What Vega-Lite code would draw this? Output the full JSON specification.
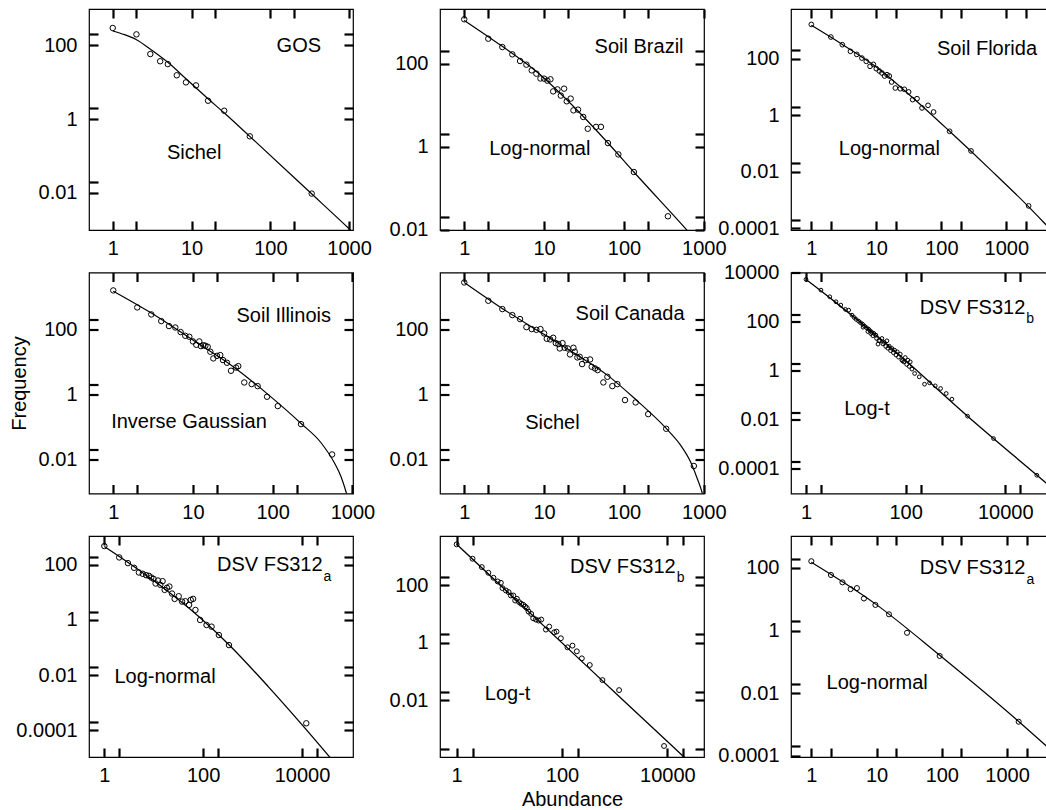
{
"$schema": "https://vega.github.io/schema/vega-lite/v6.json",
"padding": {"left": 8, "top": 7, "right": 0, "bottom": 4},
"bounds": "flush",
"spacing": {"row": 42.5, "column": 87},
"columns": 3,
"config": {
 "font": "Liberation Sans",
 "view": {"stroke": "black", "strokeWidth": 1.2},
 "axis": {"grid": false, "domain": false, "ticks": true, "tickColor": "black", "tickWidth": 2.2, "tickSize": -9, "offset": 0, "labelFontSize": 20, "labelColor": "black", "labelOverlap": false, "labelFlush": false, "labelBound": false, "titleFontSize": 20, "titleFontWeight": "normal", "titleColor": "black"},
 "axisX": {"labelPadding": 17.5, "titlePadding": 4},
 "axisY": {"labelPadding": 21, "titlePadding": 9},
 "line": {"interpolate": "monotone"},
 "text": {"color": "black"}
},
"datasets": {
 "p1": [{"x":1,"y":295},{"x":2,"y":198},{"x":3,"y":58},{"x":4,"y":37},{"x":5,"y":31},{"x":6.5,"y":15.4},{"x":8.5,"y":9.9},{"x":11.4,"y":8.2},{"x":16.2,"y":3.15},{"x":26,"y":1.69},{"x":55,"y":0.342},{"x":335,"y":0.0096}],
 "p1f": [{"x":1,"y":245},{"x":1.41,"y":195},{"x":1.98,"y":144},{"x":3.06,"y":76},{"x":5.13,"y":33},{"x":8.51,"y":12.4},{"x":16.2,"y":3.57},{"x":26.1,"y":1.46},{"x":54.8,"y":0.342},{"x":316,"y":0.0106},{"x":1000,"y":0.00107},{"x":1120,"y":0.00085}],
 "t1": [{"nx":440,"ny":95.7,"name":"GOS","sub":"","mx":10.8,"my":0.12,"model":"Sichel"}],
 "p2": [{"x":1,"y":1175},{"x":2,"y":400},{"x":3,"y":252},{"x":4,"y":168},{"x":5,"y":116},{"x":6,"y":94.6},{"x":7,"y":69},{"x":8,"y":57.5},{"x":9,"y":44},{"x":10,"y":43.6},{"x":11,"y":39},{"x":12,"y":42},{"x":13,"y":21.5},{"x":14.7,"y":24},{"x":16.2,"y":17},{"x":17.8,"y":25},{"x":19.2,"y":12.4},{"x":21.5,"y":14.4},{"x":23.3,"y":7.5},{"x":26.6,"y":7.8},{"x":30.9,"y":5.2},{"x":35.2,"y":2.7},{"x":44.7,"y":3.0},{"x":51.5,"y":3.0},{"x":63,"y":1.22},{"x":85,"y":0.65},{"x":133,"y":0.245},{"x":355,"y":0.021}],
 "p2f": [{"x":1,"y":1107},{"x":2.87,"y":277},{"x":7.87,"y":66.6},{"x":23.7,"y":9.04},{"x":63.1,"y":1.225},{"x":133,"y":0.245},{"x":607,"y":0.01},{"x":794,"y":0.0056}],
 "t2": [{"nx":557,"ny":252,"name":"Soil Brazil","sub":"","mx":8.83,"my":0.895,"model":"Log-normal"}],
 "p3": [{"x":1,"y":1622},{"x":2,"y":582},{"x":3,"y":312},{"x":4,"y":182},{"x":5,"y":142},{"x":6,"y":105},{"x":7,"y":80.5},{"x":8,"y":53.7},{"x":9,"y":63},{"x":10,"y":44.4},{"x":11.1,"y":36.7},{"x":12.2,"y":31.2},{"x":13.4,"y":24.4},{"x":14.6,"y":27.2},{"x":15.8,"y":24.4},{"x":17.2,"y":15},{"x":19.6,"y":9.2},{"x":23.4,"y":8.7},{"x":27,"y":8.3},{"x":31.4,"y":6.7},{"x":36.2,"y":3.57},{"x":42.3,"y":3.87},{"x":50.4,"y":1.82},{"x":62.4,"y":2.25},{"x":76,"y":1.31},{"x":134,"y":0.272},{"x":286,"y":0.055},{"x":2200,"y":0.00063}],
 "p3f": [{"x":1,"y":1514},{"x":3.16,"y":295},{"x":10,"y":50.8},{"x":36.3,"y":4.17},{"x":134,"y":0.272},{"x":562,"y":0.0123},{"x":2208,"y":0.000582},{"x":4121,"y":0.000132},{"x":5000,"y":0.000083}],
 "t3": [{"nx":2967,"ny":225,"name":"Soil Florida","sub":"","mx":15.85,"my":0.066,"model":"Log-normal"}],
 "p4": [{"x":1,"y":1538},{"x":2,"y":463},{"x":3,"y":282},{"x":4,"y":176},{"x":5,"y":124},{"x":6,"y":112},{"x":7,"y":81},{"x":8,"y":62.4},{"x":9,"y":58.2},{"x":10,"y":41.8},{"x":11,"y":33},{"x":12,"y":41.8},{"x":12.6,"y":30},{"x":13.5,"y":32},{"x":14.3,"y":30.9},{"x":15.3,"y":28.7},{"x":16.5,"y":20.2},{"x":18,"y":12.6},{"x":20,"y":15.1},{"x":22,"y":15.9},{"x":23.8,"y":11.2},{"x":26.7,"y":9.27},{"x":30,"y":5.26},{"x":34.7,"y":6.6},{"x":37,"y":7.3},{"x":44,"y":2.3},{"x":54.5,"y":2.05},{"x":64.8,"y":1.78},{"x":85,"y":0.84},{"x":116,"y":0.434},{"x":227,"y":0.121},{"x":556,"y":0.0142}],
 "p4f": [{"x":1,"y":1466},{"x":2.97,"y":317},{"x":10.4,"y":42.9},{"x":33,"y":6.67},{"x":86.5,"y":1.01},{"x":227,"y":0.127},{"x":404,"y":0.0325},{"x":594,"y":0.0079},{"x":721,"y":0.00294},{"x":832,"y":0.00102},{"x":870,"y":0.0007}],
 "t4": [{"nx":539,"ny":256,"name":"Soil Illinois","sub":"","mx":8.9,"my":0.143,"model":"Inverse Gaussian"}],
 "p5": [{"x":1,"y":2704},{"x":2,"y":741},{"x":3,"y":411},{"x":4,"y":269},{"x":5,"y":203},{"x":6,"y":115},{"x":7,"y":100},{"x":8,"y":95},{"x":9,"y":100},{"x":10,"y":73.6},{"x":10.8,"y":50.5},{"x":11.9,"y":48.2},{"x":13,"y":54.2},{"x":14,"y":37.2},{"x":15.1,"y":34.7},{"x":15.7,"y":25.5},{"x":17,"y":37.2},{"x":18.1,"y":26.7},{"x":19.8,"y":25.5},{"x":21.1,"y":16.7},{"x":23.3,"y":26.7},{"x":24.2,"y":20.1},{"x":26.1,"y":13.5},{"x":27.9,"y":14.1},{"x":29.9,"y":8.43},{"x":33.2,"y":11.2},{"x":37.6,"y":11.7},{"x":39.4,"y":6.98},{"x":43.4,"y":6.2},{"x":46.9,"y":5.52},{"x":62,"y":3.44},{"x":55.2,"y":2.31},{"x":71.5,"y":1.78},{"x":82.6,"y":2.05},{"x":103,"y":0.662},{"x":140,"y":0.562},{"x":201,"y":0.246},{"x":338,"y":0.0873},{"x":750,"y":0.0063}],
 "p5f": [{"x":1,"y":2704},{"x":2.99,"y":431},{"x":9.82,"y":70.3},{"x":26.1,"y":15.9},{"x":61.9,"y":3.87},{"x":140,"y":0.693},{"x":338,"y":0.0893},{"x":511,"y":0.0275},{"x":681,"y":0.00848},{"x":826,"y":0.00261},{"x":953,"y":0.00095},{"x":1000,"y":0.0006}],
 "t5": [{"nx":574,"ny":289,"name":"Soil Canada","sub":"","mx":12.7,"my":0.127,"model":"Sichel"}],
 "p6": [{"x":1,"y":5400},{"x":2,"y":1977},{"x":3,"y":1054},{"x":4,"y":659},{"x":5,"y":481},{"x":6.2,"y":320},{"x":7.2,"y":300},{"x":8.4,"y":187},{"x":9.3,"y":150},{"x":10.2,"y":125},{"x":11.4,"y":106},{"x":12.5,"y":91},{"x":13.7,"y":80},{"x":14,"y":60},{"x":15,"y":66.5},{"x":16.5,"y":56.8},{"x":17.5,"y":40},{"x":18.1,"y":50},{"x":19.5,"y":42.8},{"x":20,"y":33},{"x":21.1,"y":36.6},{"x":22,"y":27},{"x":23.2,"y":33.3},{"x":25.4,"y":28.4},{"x":26,"y":21},{"x":27.9,"y":12.2},{"x":29,"y":17},{"x":30.1,"y":16.7},{"x":33.5,"y":20.8},{"x":35,"y":12.5},{"x":37.3,"y":14.3},{"x":40,"y":9.8},{"x":42.2,"y":16.7},{"x":44,"y":8.3},{"x":47,"y":10.1},{"x":50,"y":6.6},{"x":53.2,"y":8.1},{"x":57,"y":5.4},{"x":60.1,"y":6.9},{"x":64,"y":4.4},{"x":68,"y":5.9},{"x":72,"y":3.6},{"x":78.2,"y":4.75},{"x":84,"y":2.7},{"x":87,"y":2.54},{"x":92,"y":2.3},{"x":98.5,"y":3.47},{"x":105,"y":1.8},{"x":111,"y":2.7},{"x":118,"y":1.5},{"x":124,"y":2.3},{"x":134,"y":1.16},{"x":152,"y":0.768},{"x":188,"y":0.561},{"x":240,"y":0.281},{"x":303,"y":0.318},{"x":394,"y":0.24},{"x":504,"y":0.187},{"x":654,"y":0.117},{"x":851,"y":0.0684},{"x":1754,"y":0.0138},{"x":5834,"y":0.00168},{"x":43150,"y":0.000053}],
 "p6f": [{"x":1,"y":5400},{"x":3.88,"y":638},{"x":39.1,"y":13.8},{"x":1754,"y":0.0138},{"x":68550,"y":0.0000242},{"x":100000,"y":0.0000126}],
 "t6": [{"nx":25350,"ny":350,"name":"DSV FS312","sub":"b","mx":16.8,"my":0.0284,"model":"Log-t"}],
 "p7": [{"x":1,"y":478},{"x":2,"y":185},{"x":3,"y":115},{"x":4,"y":77.8},{"x":5,"y":52.6},{"x":6,"y":47.1},{"x":7,"y":42.1},{"x":8,"y":39.8},{"x":8.9,"y":34.6},{"x":9.9,"y":31},{"x":10.9,"y":21},{"x":12.2,"y":26.9},{"x":13.6,"y":18.7},{"x":15.1,"y":25.5},{"x":16.6,"y":12.3},{"x":18.5,"y":14.6},{"x":20.7,"y":16.3},{"x":23.4,"y":9.08},{"x":26.5,"y":5.81},{"x":32,"y":7.26},{"x":37.4,"y":4.64},{"x":43.7,"y":4.78},{"x":51.9,"y":3.51},{"x":56.1,"y":5.33},{"x":62.6,"y":5.81},{"x":69.8,"y":2.31},{"x":86.9,"y":1.0},{"x":117,"y":0.658},{"x":148,"y":0.573},{"x":208,"y":0.285},{"x":333,"y":0.123},{"x":12240,"y":0.00018}],
 "p7f": [{"x":1,"y":464},{"x":8.9,"y":31},{"x":86.9,"y":1.2},{"x":333,"y":0.127},{"x":2099,"y":0.00377},{"x":10000,"y":0.000161},{"x":36560,"y":0.0000107},{"x":50100,"y":0.0000055}],
 "t7": [{"nx":26200,"ny":100,"name":"DSV FS312","sub":"a","mx":16.9,"my":0.00875,"model":"Log-normal"}],
 "p8": [{"x":1,"y":2716},{"x":2,"y":857},{"x":3,"y":438},{"x":4,"y":277},{"x":5,"y":185},{"x":6,"y":138},{"x":6.9,"y":124},{"x":7.4,"y":80.7},{"x":8.6,"y":66.9},{"x":9.7,"y":58.5},{"x":10.7,"y":44.7},{"x":11.9,"y":44.7},{"x":12.9,"y":29.8},{"x":13.9,"y":34.2},{"x":15.4,"y":26.1},{"x":16.8,"y":22.9},{"x":18.4,"y":21.1},{"x":20,"y":18.4},{"x":21.5,"y":16.1},{"x":23.2,"y":12.3},{"x":26,"y":10.2},{"x":28.4,"y":7.19},{"x":31.9,"y":6.46},{"x":35.9,"y":5.97},{"x":40.3,"y":6.46},{"x":49.4,"y":2.89},{"x":57.2,"y":3.68},{"x":71.1,"y":2.33},{"x":78.7,"y":2.46},{"x":95.1,"y":1.44},{"x":127,"y":0.697},{"x":158,"y":0.796},{"x":191,"y":0.505},{"x":238,"y":0.287},{"x":337,"y":0.168},{"x":586,"y":0.0501},{"x":1213,"y":0.0224},{"x":8650,"y":0.000252}],
 "p8f": [{"x":1,"y":2716},{"x":337,"y":0.123},{"x":20700,"y":0.000104},{"x":25000,"y":0.0000755}],
 "t8": [{"nx":14360,"ny":437,"name":"DSV FS312","sub":"b","mx":9.27,"my":0.0161,"model":"Log-t"}],
 "p9": [{"x":1,"y":164},{"x":2,"y":59.5},{"x":3,"y":34.6},{"x":4,"y":21.1},{"x":5,"y":22.7},{"x":6.4,"y":10.6},{"x":9.6,"y":6.6},{"x":15.5,"y":3.31},{"x":29.3,"y":0.851},{"x":92.7,"y":0.155},{"x":1507,"y":0.00123}],
 "p9f": [{"x":1,"y":152},{"x":9.58,"y":7.12},{"x":92.7,"y":0.163},{"x":1507,"y":0.001256},{"x":4000,"y":0.000207},{"x":5400,"y":0.000118}],
 "t9": [{"nx":1915,"ny":100,"name":"DSV FS312","sub":"a","mx":10.2,"my":0.0215,"model":"Log-normal"}]
},
"concat": [
{"width":264,"height":221,"resolve":{"axis":{"x":"independent","y":"independent"}},"layer":[
 {"data":{"name":"p1"},"mark":{"type":"point","shape":"circle","filled":false,"color":"black","opacity":1,"strokeWidth":1,"size":30},
  "encoding":{"x":{"field":"x","type":"quantitative","title":null,"scale":{"type":"log","nice":false,"domain":[0.5,1120]},"axis":{"orient":"bottom","tickSize":-9,"offset":0,"tickColor":"black","tickWidth":2.2,"values":[1,2,10,20,100,200,1000],"format":"~g","labelExpr":"indexof(datum.label,'2')>=0 ? '' : datum.label"}},
   "y":{"field":"y","type":"quantitative","title":null,"scale":{"type":"log","nice":false,"domain":[0.00099,964]},"axis":{"orient":"left","tickSize":-9,"offset":0,"tickColor":"black","tickWidth":2.2,"values":[0.01,0.02,1,2,100,200],"format":"~g","labelExpr":"indexof(datum.label,'2')>=0 ? '' : datum.label"}}}},
 {"data":{"name":"p1f"},"mark":{"type":"line","color":"black","strokeWidth":1.2,"clip":true},
  "encoding":{"x":{"field":"x","type":"quantitative","title":null,"scale":{"type":"log","nice":false,"domain":[0.5,1120]},"axis":{"orient":"top","tickSize":-9,"offset":0,"tickColor":"black","tickWidth":2.2,"values":[1,2,10,20,100,200,1000],"labels":false}},
   "y":{"field":"y","type":"quantitative","title":null,"scale":{"type":"log","nice":false,"domain":[0.00099,964]},"axis":{"orient":"right","tickSize":-9,"offset":0,"tickColor":"black","tickWidth":2.2,"values":[0.01,0.02,1,2,100,200],"labels":false}}}},
 {"data":{"name":"t1"},"mark":{"type":"text","align":"right","baseline":"middle","fontSize":20},
  "encoding":{"x":{"field":"nx","type":"quantitative","scale":{"type":"log","nice":false,"domain":[0.5,1120]},"axis":null},"y":{"field":"ny","type":"quantitative","scale":{"type":"log","nice":false,"domain":[0.00099,964]},"axis":null},"text":{"field":"name"}}},
 {"data":{"name":"t1"},"mark":{"type":"text","align":"center","baseline":"middle","fontSize":20},
  "encoding":{"x":{"field":"mx","type":"quantitative","scale":{"type":"log","nice":false,"domain":[0.5,1120]},"axis":null},"y":{"field":"my","type":"quantitative","scale":{"type":"log","nice":false,"domain":[0.00099,964]},"axis":null},"text":{"field":"model"}}}
]},
{"width":264,"height":221,"resolve":{"axis":{"x":"independent","y":"independent"}},"layer":[
 {"data":{"name":"p2"},"mark":{"type":"point","shape":"circle","filled":false,"color":"black","opacity":1,"strokeWidth":1,"size":30},
  "encoding":{"x":{"field":"x","type":"quantitative","title":null,"scale":{"type":"log","nice":false,"domain":[0.497,1005]},"axis":{"orient":"bottom","tickSize":-9,"offset":0,"tickColor":"black","tickWidth":2.2,"values":[1,2,10,20,100,200,1000],"format":"~g","labelExpr":"indexof(datum.label,'2')>=0 ? '' : datum.label"}},
   "y":{"field":"y","type":"quantitative","title":null,"scale":{"type":"log","nice":false,"domain":[0.0098,2080]},"axis":{"orient":"left","tickSize":-9,"offset":0,"tickColor":"black","tickWidth":2.2,"values":[0.01,0.02,1,2,100,200],"format":"~g","labelExpr":"indexof(datum.label,'2')>=0 ? '' : datum.label"}}}},
 {"data":{"name":"p2f"},"mark":{"type":"line","color":"black","strokeWidth":1.2,"clip":true},
  "encoding":{"x":{"field":"x","type":"quantitative","title":null,"scale":{"type":"log","nice":false,"domain":[0.497,1005]},"axis":{"orient":"top","tickSize":-9,"offset":0,"tickColor":"black","tickWidth":2.2,"values":[1,2,10,20,100,200,1000],"labels":false}},
   "y":{"field":"y","type":"quantitative","title":null,"scale":{"type":"log","nice":false,"domain":[0.0098,2080]},"axis":{"orient":"right","tickSize":-9,"offset":0,"tickColor":"black","tickWidth":2.2,"values":[0.01,0.02,1,2,100,200],"labels":false}}}},
 {"data":{"name":"t2"},"mark":{"type":"text","align":"right","baseline":"middle","fontSize":20},
  "encoding":{"x":{"field":"nx","type":"quantitative","scale":{"type":"log","nice":false,"domain":[0.497,1005]},"axis":null},"y":{"field":"ny","type":"quantitative","scale":{"type":"log","nice":false,"domain":[0.0098,2080]},"axis":null},"text":{"field":"name"}}},
 {"data":{"name":"t2"},"mark":{"type":"text","align":"center","baseline":"middle","fontSize":20},
  "encoding":{"x":{"field":"mx","type":"quantitative","scale":{"type":"log","nice":false,"domain":[0.497,1005]},"axis":null},"y":{"field":"my","type":"quantitative","scale":{"type":"log","nice":false,"domain":[0.0098,2080]},"axis":null},"text":{"field":"model"}}}
]},
{"width":264,"height":221,"resolve":{"axis":{"x":"independent","y":"independent"}},"layer":[
 {"data":{"name":"p3"},"mark":{"type":"point","shape":"circle","filled":false,"color":"black","opacity":1,"strokeWidth":1,"size":22},
  "encoding":{"x":{"field":"x","type":"quantitative","title":null,"scale":{"type":"log","nice":false,"domain":[0.487,5600]},"axis":{"orient":"bottom","tickSize":-9,"offset":0,"tickColor":"black","tickWidth":2.2,"values":[1,2,10,20,100,200,1000,2000],"format":"~g","labelExpr":"indexof(datum.label,'2')>=0 ? '' : datum.label"}},
   "y":{"field":"y","type":"quantitative","title":null,"scale":{"type":"log","nice":false,"domain":[0.0000885,5700]},"axis":{"orient":"left","tickSize":-9,"offset":0,"tickColor":"black","tickWidth":2.2,"values":[0.0001,0.0002,0.01,0.02,1,2,100,200],"format":"~g","labelExpr":"indexof(datum.label,'2')>=0 ? '' : datum.label"}}}},
 {"data":{"name":"p3f"},"mark":{"type":"line","color":"black","strokeWidth":1.2,"clip":true},
  "encoding":{"x":{"field":"x","type":"quantitative","title":null,"scale":{"type":"log","nice":false,"domain":[0.487,5600]},"axis":{"orient":"top","tickSize":-9,"offset":0,"tickColor":"black","tickWidth":2.2,"values":[1,2,10,20,100,200,1000,2000],"labels":false}},
   "y":{"field":"y","type":"quantitative","title":null,"scale":{"type":"log","nice":false,"domain":[0.0000885,5700]},"axis":{"orient":"right","tickSize":-9,"offset":0,"tickColor":"black","tickWidth":2.2,"values":[0.0001,0.0002,0.01,0.02,1,2,100,200],"labels":false}}}},
 {"data":{"name":"t3"},"mark":{"type":"text","align":"right","baseline":"middle","fontSize":20},
  "encoding":{"x":{"field":"nx","type":"quantitative","scale":{"type":"log","nice":false,"domain":[0.487,5600]},"axis":null},"y":{"field":"ny","type":"quantitative","scale":{"type":"log","nice":false,"domain":[0.0000885,5700]},"axis":null},"text":{"field":"name"}}},
 {"data":{"name":"t3"},"mark":{"type":"text","align":"center","baseline":"middle","fontSize":20},
  "encoding":{"x":{"field":"mx","type":"quantitative","scale":{"type":"log","nice":false,"domain":[0.487,5600]},"axis":null},"y":{"field":"my","type":"quantitative","scale":{"type":"log","nice":false,"domain":[0.0000885,5700]},"axis":null},"text":{"field":"model"}}}
]},
{"width":264,"height":221,"resolve":{"axis":{"x":"independent","y":"independent"}},"layer":[
 {"data":{"name":"p4"},"mark":{"type":"point","shape":"circle","filled":false,"color":"black","opacity":1,"strokeWidth":1,"size":30},
  "encoding":{"x":{"field":"x","type":"quantitative","title":null,"scale":{"type":"log","nice":false,"domain":[0.496,1018]},"axis":{"orient":"bottom","tickSize":-9,"offset":0,"tickColor":"black","tickWidth":2.2,"values":[1,2,10,20,100,200,1000],"format":"~g","labelExpr":"indexof(datum.label,'2')>=0 ? '' : datum.label"}},
   "y":{"field":"y","type":"quantitative","title":"Frequency","scale":{"type":"log","nice":false,"domain":[0.0009,5460]},"axis":{"orient":"left","tickSize":-9,"offset":0,"tickColor":"black","tickWidth":2.2,"values":[0.01,0.02,1,2,100,200],"format":"~g","labelExpr":"indexof(datum.label,'2')>=0 ? '' : datum.label"}}}},
 {"data":{"name":"p4f"},"mark":{"type":"line","color":"black","strokeWidth":1.2,"clip":true},
  "encoding":{"x":{"field":"x","type":"quantitative","title":null,"scale":{"type":"log","nice":false,"domain":[0.496,1018]},"axis":{"orient":"top","tickSize":-9,"offset":0,"tickColor":"black","tickWidth":2.2,"values":[1,2,10,20,100,200,1000],"labels":false}},
   "y":{"field":"y","type":"quantitative","title":null,"scale":{"type":"log","nice":false,"domain":[0.0009,5460]},"axis":{"orient":"right","tickSize":-9,"offset":0,"tickColor":"black","tickWidth":2.2,"values":[0.01,0.02,1,2,100,200],"labels":false}}}},
 {"data":{"name":"t4"},"mark":{"type":"text","align":"right","baseline":"middle","fontSize":20},
  "encoding":{"x":{"field":"nx","type":"quantitative","scale":{"type":"log","nice":false,"domain":[0.496,1018]},"axis":null},"y":{"field":"ny","type":"quantitative","scale":{"type":"log","nice":false,"domain":[0.0009,5460]},"axis":null},"text":{"field":"name"}}},
 {"data":{"name":"t4"},"mark":{"type":"text","align":"center","baseline":"middle","fontSize":20},
  "encoding":{"x":{"field":"mx","type":"quantitative","scale":{"type":"log","nice":false,"domain":[0.496,1018]},"axis":null},"y":{"field":"my","type":"quantitative","scale":{"type":"log","nice":false,"domain":[0.0009,5460]},"axis":null},"text":{"field":"model"}}}
]},
{"width":264,"height":221,"resolve":{"axis":{"x":"independent","y":"independent"}},"layer":[
 {"data":{"name":"p5"},"mark":{"type":"point","shape":"circle","filled":false,"color":"black","opacity":1,"strokeWidth":1,"size":30},
  "encoding":{"x":{"field":"x","type":"quantitative","title":null,"scale":{"type":"log","nice":false,"domain":[0.497,1005]},"axis":{"orient":"bottom","tickSize":-9,"offset":0,"tickColor":"black","tickWidth":2.2,"values":[1,2,10,20,100,200,1000],"format":"~g","labelExpr":"indexof(datum.label,'2')>=0 ? '' : datum.label"}},
   "y":{"field":"y","type":"quantitative","title":null,"scale":{"type":"log","nice":false,"domain":[0.0009,5460]},"axis":{"orient":"left","tickSize":-9,"offset":0,"tickColor":"black","tickWidth":2.2,"values":[0.01,0.02,1,2,100,200],"format":"~g","labelExpr":"indexof(datum.label,'2')>=0 ? '' : datum.label"}}}},
 {"data":{"name":"p5f"},"mark":{"type":"line","color":"black","strokeWidth":1.2,"clip":true},
  "encoding":{"x":{"field":"x","type":"quantitative","title":null,"scale":{"type":"log","nice":false,"domain":[0.497,1005]},"axis":{"orient":"top","tickSize":-9,"offset":0,"tickColor":"black","tickWidth":2.2,"values":[1,2,10,20,100,200,1000],"labels":false}},
   "y":{"field":"y","type":"quantitative","title":null,"scale":{"type":"log","nice":false,"domain":[0.0009,5460]},"axis":{"orient":"right","tickSize":-9,"offset":0,"tickColor":"black","tickWidth":2.2,"values":[0.01,0.02,1,2,100,200],"labels":false}}}},
 {"data":{"name":"t5"},"mark":{"type":"text","align":"right","baseline":"middle","fontSize":20},
  "encoding":{"x":{"field":"nx","type":"quantitative","scale":{"type":"log","nice":false,"domain":[0.497,1005]},"axis":null},"y":{"field":"ny","type":"quantitative","scale":{"type":"log","nice":false,"domain":[0.0009,5460]},"axis":null},"text":{"field":"name"}}},
 {"data":{"name":"t5"},"mark":{"type":"text","align":"center","baseline":"middle","fontSize":20},
  "encoding":{"x":{"field":"mx","type":"quantitative","scale":{"type":"log","nice":false,"domain":[0.497,1005]},"axis":null},"y":{"field":"my","type":"quantitative","scale":{"type":"log","nice":false,"domain":[0.0009,5460]},"axis":null},"text":{"field":"model"}}}
]},
{"width":264,"height":221,"resolve":{"axis":{"x":"independent","y":"independent"}},"layer":[
 {"data":{"name":"p6"},"mark":{"type":"point","shape":"circle","filled":false,"color":"black","opacity":1,"strokeWidth":1,"size":14},
  "encoding":{"x":{"field":"x","type":"quantitative","title":null,"scale":{"type":"log","nice":false,"domain":[0.5,100000]},"axis":{"orient":"bottom","tickSize":-9,"offset":0,"tickColor":"black","tickWidth":2.2,"values":[1,2,100,200,10000,20000],"format":"~g","labelExpr":"indexof(datum.label,'2')>=0 ? '' : datum.label"}},
   "y":{"field":"y","type":"quantitative","title":null,"scale":{"type":"log","nice":false,"domain":[0.0000095,10380]},"axis":{"orient":"left","tickSize":-9,"offset":0,"tickColor":"black","tickWidth":2.2,"values":[0.0001,0.0002,0.01,0.02,1,2,100,200,10000],"format":"~g","labelExpr":"indexof(datum.label,'2')>=0 ? '' : datum.label"}}}},
 {"data":{"name":"p6f"},"mark":{"type":"line","color":"black","strokeWidth":1.3,"clip":true},
  "encoding":{"x":{"field":"x","type":"quantitative","title":null,"scale":{"type":"log","nice":false,"domain":[0.5,100000]},"axis":{"orient":"top","tickSize":-9,"offset":0,"tickColor":"black","tickWidth":2.2,"values":[1,2,100,200,10000,20000],"labels":false}},
   "y":{"field":"y","type":"quantitative","title":null,"scale":{"type":"log","nice":false,"domain":[0.0000095,10380]},"axis":{"orient":"right","tickSize":-9,"offset":0,"tickColor":"black","tickWidth":2.2,"values":[0.0001,0.0002,0.01,0.02,1,2,100,200,10000],"labels":false}}}},
 {"data":{"name":"t6"},"mark":{"type":"text","align":"right","baseline":"middle","fontSize":20},
  "encoding":{"x":{"field":"nx","type":"quantitative","scale":{"type":"log","nice":false,"domain":[0.5,100000]},"axis":null},"y":{"field":"ny","type":"quantitative","scale":{"type":"log","nice":false,"domain":[0.0000095,10380]},"axis":null},"text":{"field":"name"}}},
 {"data":{"name":"t6"},"mark":{"type":"text","align":"left","baseline":"middle","fontSize":14,"dx":1,"dy":11},
  "encoding":{"x":{"field":"nx","type":"quantitative","scale":{"type":"log","nice":false,"domain":[0.5,100000]},"axis":null},"y":{"field":"ny","type":"quantitative","scale":{"type":"log","nice":false,"domain":[0.0000095,10380]},"axis":null},"text":{"field":"sub"}}},
 {"data":{"name":"t6"},"mark":{"type":"text","align":"center","baseline":"middle","fontSize":20},
  "encoding":{"x":{"field":"mx","type":"quantitative","scale":{"type":"log","nice":false,"domain":[0.5,100000]},"axis":null},"y":{"field":"my","type":"quantitative","scale":{"type":"log","nice":false,"domain":[0.0000095,10380]},"axis":null},"text":{"field":"model"}}}
]},
{"width":264,"height":221,"resolve":{"axis":{"x":"independent","y":"independent"}},"layer":[
 {"data":{"name":"p7"},"mark":{"type":"point","shape":"circle","filled":false,"color":"black","opacity":1,"strokeWidth":1,"size":30},
  "encoding":{"x":{"field":"x","type":"quantitative","title":null,"scale":{"type":"log","nice":false,"domain":[0.489,108000]},"axis":{"orient":"bottom","tickSize":-9,"offset":0,"tickColor":"black","tickWidth":2.2,"values":[1,2,100,200,10000,20000],"format":"~g","labelExpr":"indexof(datum.label,'2')>=0 ? '' : datum.label"}},
   "y":{"field":"y","type":"quantitative","title":null,"scale":{"type":"log","nice":false,"domain":[0.0000108,1107]},"axis":{"orient":"left","tickSize":-9,"offset":0,"tickColor":"black","tickWidth":2.2,"values":[0.0001,0.0002,0.01,0.02,1,2,100,200],"format":"~g","labelExpr":"indexof(datum.label,'2')>=0 ? '' : datum.label"}}}},
 {"data":{"name":"p7f"},"mark":{"type":"line","color":"black","strokeWidth":1.3,"clip":true},
  "encoding":{"x":{"field":"x","type":"quantitative","title":null,"scale":{"type":"log","nice":false,"domain":[0.489,108000]},"axis":{"orient":"top","tickSize":-9,"offset":0,"tickColor":"black","tickWidth":2.2,"values":[1,2,100,200,10000,20000],"labels":false}},
   "y":{"field":"y","type":"quantitative","title":null,"scale":{"type":"log","nice":false,"domain":[0.0000108,1107]},"axis":{"orient":"right","tickSize":-9,"offset":0,"tickColor":"black","tickWidth":2.2,"values":[0.0001,0.0002,0.01,0.02,1,2,100,200],"labels":false}}}},
 {"data":{"name":"t7"},"mark":{"type":"text","align":"right","baseline":"middle","fontSize":20},
  "encoding":{"x":{"field":"nx","type":"quantitative","scale":{"type":"log","nice":false,"domain":[0.489,108000]},"axis":null},"y":{"field":"ny","type":"quantitative","scale":{"type":"log","nice":false,"domain":[0.0000108,1107]},"axis":null},"text":{"field":"name"}}},
 {"data":{"name":"t7"},"mark":{"type":"text","align":"left","baseline":"middle","fontSize":14,"dx":1,"dy":12},
  "encoding":{"x":{"field":"nx","type":"quantitative","scale":{"type":"log","nice":false,"domain":[0.489,108000]},"axis":null},"y":{"field":"ny","type":"quantitative","scale":{"type":"log","nice":false,"domain":[0.0000108,1107]},"axis":null},"text":{"field":"sub"}}},
 {"data":{"name":"t7"},"mark":{"type":"text","align":"center","baseline":"middle","fontSize":20},
  "encoding":{"x":{"field":"mx","type":"quantitative","scale":{"type":"log","nice":false,"domain":[0.489,108000]},"axis":null},"y":{"field":"my","type":"quantitative","scale":{"type":"log","nice":false,"domain":[0.0000108,1107]},"axis":null},"text":{"field":"model"}}}
]},
{"width":264,"height":221,"resolve":{"axis":{"x":"independent","y":"independent"}},"layer":[
 {"data":{"name":"p8"},"mark":{"type":"point","shape":"circle","filled":false,"color":"black","opacity":1,"strokeWidth":1,"size":24},
  "encoding":{"x":{"field":"x","type":"quantitative","title":"Abundance","scale":{"type":"log","nice":false,"domain":[0.483,49600]},"axis":{"orient":"bottom","tickSize":-9,"offset":0,"tickColor":"black","tickWidth":2.2,"values":[1,2,100,200,10000,20000],"format":"~g","labelExpr":"indexof(datum.label,'2')>=0 ? '' : datum.label"}},
   "y":{"field":"y","type":"quantitative","title":null,"scale":{"type":"log","nice":false,"domain":[0.000104,5310]},"axis":{"orient":"left","tickSize":-9,"offset":0,"tickColor":"black","tickWidth":2.2,"values":[0.0001,0.0002,0.01,0.02,1,2,100,200],"format":"~g","labelExpr":"indexof(datum.label,'2')>=0 ? '' : datum.label"}}}},
 {"data":{"name":"p8f"},"mark":{"type":"line","color":"black","strokeWidth":1.3,"clip":true},
  "encoding":{"x":{"field":"x","type":"quantitative","title":null,"scale":{"type":"log","nice":false,"domain":[0.483,49600]},"axis":{"orient":"top","tickSize":-9,"offset":0,"tickColor":"black","tickWidth":2.2,"values":[1,2,100,200,10000,20000],"labels":false}},
   "y":{"field":"y","type":"quantitative","title":null,"scale":{"type":"log","nice":false,"domain":[0.000104,5310]},"axis":{"orient":"right","tickSize":-9,"offset":0,"tickColor":"black","tickWidth":2.2,"values":[0.0001,0.0002,0.01,0.02,1,2,100,200],"labels":false}}}},
 {"data":{"name":"t8"},"mark":{"type":"text","align":"right","baseline":"middle","fontSize":20},
  "encoding":{"x":{"field":"nx","type":"quantitative","scale":{"type":"log","nice":false,"domain":[0.483,49600]},"axis":null},"y":{"field":"ny","type":"quantitative","scale":{"type":"log","nice":false,"domain":[0.000104,5310]},"axis":null},"text":{"field":"name"}}},
 {"data":{"name":"t8"},"mark":{"type":"text","align":"left","baseline":"middle","fontSize":14,"dx":1,"dy":11},
  "encoding":{"x":{"field":"nx","type":"quantitative","scale":{"type":"log","nice":false,"domain":[0.483,49600]},"axis":null},"y":{"field":"ny","type":"quantitative","scale":{"type":"log","nice":false,"domain":[0.000104,5310]},"axis":null},"text":{"field":"sub"}}},
 {"data":{"name":"t8"},"mark":{"type":"text","align":"center","baseline":"middle","fontSize":20},
  "encoding":{"x":{"field":"mx","type":"quantitative","scale":{"type":"log","nice":false,"domain":[0.483,49600]},"axis":null},"y":{"field":"my","type":"quantitative","scale":{"type":"log","nice":false,"domain":[0.000104,5310]},"axis":null},"text":{"field":"model"}}}
]},
{"width":264,"height":221,"resolve":{"axis":{"x":"independent","y":"independent"}},"layer":[
 {"data":{"name":"p9"},"mark":{"type":"point","shape":"circle","filled":false,"color":"black","opacity":1,"strokeWidth":1,"size":26},
  "encoding":{"x":{"field":"x","type":"quantitative","title":null,"scale":{"type":"log","nice":false,"domain":[0.488,5430]},"axis":{"orient":"bottom","tickSize":-9,"offset":0,"tickColor":"black","tickWidth":2.2,"values":[1,2,10,20,100,200,1000,2000],"format":"~g","labelExpr":"indexof(datum.label,'2')>=0 ? '' : datum.label"}},
   "y":{"field":"y","type":"quantitative","title":null,"scale":{"type":"log","nice":false,"domain":[0.000092,1047]},"axis":{"orient":"left","tickSize":-9,"offset":0,"tickColor":"black","tickWidth":2.2,"values":[0.0001,0.0002,0.01,0.02,1,2,100,200],"format":"~g","labelExpr":"indexof(datum.label,'2')>=0 ? '' : datum.label"}}}},
 {"data":{"name":"p9f"},"mark":{"type":"line","color":"black","strokeWidth":1.2,"clip":true},
  "encoding":{"x":{"field":"x","type":"quantitative","title":null,"scale":{"type":"log","nice":false,"domain":[0.488,5430]},"axis":{"orient":"top","tickSize":-9,"offset":0,"tickColor":"black","tickWidth":2.2,"values":[1,2,10,20,100,200,1000,2000],"labels":false}},
   "y":{"field":"y","type":"quantitative","title":null,"scale":{"type":"log","nice":false,"domain":[0.000092,1047]},"axis":{"orient":"right","tickSize":-9,"offset":0,"tickColor":"black","tickWidth":2.2,"values":[0.0001,0.0002,0.01,0.02,1,2,100,200],"labels":false}}}},
 {"data":{"name":"t9"},"mark":{"type":"text","align":"right","baseline":"middle","fontSize":20},
  "encoding":{"x":{"field":"nx","type":"quantitative","scale":{"type":"log","nice":false,"domain":[0.488,5430]},"axis":null},"y":{"field":"ny","type":"quantitative","scale":{"type":"log","nice":false,"domain":[0.000092,1047]},"axis":null},"text":{"field":"name"}}},
 {"data":{"name":"t9"},"mark":{"type":"text","align":"left","baseline":"middle","fontSize":14,"dx":1,"dy":12},
  "encoding":{"x":{"field":"nx","type":"quantitative","scale":{"type":"log","nice":false,"domain":[0.488,5430]},"axis":null},"y":{"field":"ny","type":"quantitative","scale":{"type":"log","nice":false,"domain":[0.000092,1047]},"axis":null},"text":{"field":"sub"}}},
 {"data":{"name":"t9"},"mark":{"type":"text","align":"center","baseline":"middle","fontSize":20},
  "encoding":{"x":{"field":"mx","type":"quantitative","scale":{"type":"log","nice":false,"domain":[0.488,5430]},"axis":null},"y":{"field":"my","type":"quantitative","scale":{"type":"log","nice":false,"domain":[0.000092,1047]},"axis":null},"text":{"field":"model"}}}
]}
]
}
